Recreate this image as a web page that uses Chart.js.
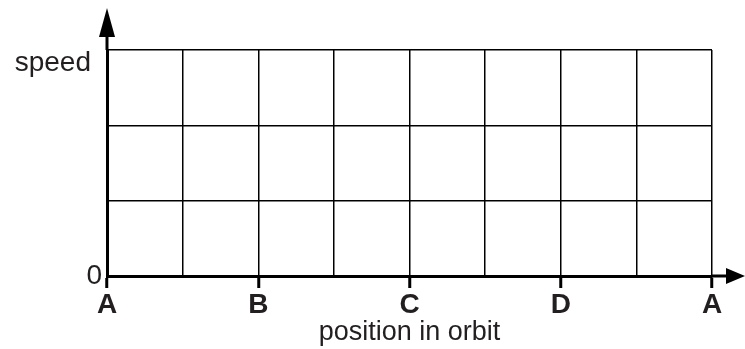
<!DOCTYPE html>
<html>
<head>
<meta charset="utf-8">
<script src="https://cdn.jsdelivr.net/npm/chart.js@4/dist/chart.umd.min.js"></script>
<style>
  html, body { margin: 0; padding: 0; background: #fff; }
  #wrap { width: 745px; height: 349px; }
</style>
</head>
<body>
<div id="wrap"><canvas id="orbitChart"></canvas></div>
<script>
// Grid of the empty answer chart
const positions = ['A', 'B', 'C', 'D', 'A'];   // labels under every 2nd column
const gridColumns = 8;
const gridRows = 3;
const speedLabels = ['0', 'speed'];
const speedLabelValues = [0, 2.83];

const ink = '#231f20';
const font = 'Liberation Sans, Arial, Helvetica, sans-serif';

// arrows on the axes and the y labels
const axisArrows = {
    id: 'axisArrows',
    afterDraw(chart) {
        const { ctx, chartArea: a, scales } = chart;
        ctx.save();
        ctx.fillStyle = '#000';
        ctx.strokeStyle = '#000';
        ctx.lineWidth = 3;

        // y axis arrow
        ctx.beginPath();
        ctx.moveTo(a.left, a.top);
        ctx.lineTo(a.left, a.top - 15);
        ctx.stroke();
        ctx.beginPath();
        ctx.moveTo(a.left, a.top - 42);
        ctx.lineTo(a.left - 8, a.top - 13);
        ctx.lineTo(a.left + 8, a.top - 13);
        ctx.closePath();
        ctx.fill();

        // x axis arrow
        ctx.beginPath();
        ctx.moveTo(a.right, a.bottom);
        ctx.lineTo(a.right + 16, a.bottom);
        ctx.stroke();
        ctx.beginPath();
        ctx.moveTo(a.right + 33, a.bottom);
        ctx.lineTo(a.right + 14, a.bottom - 8);
        ctx.lineTo(a.right + 14, a.bottom + 8);
        ctx.closePath();
        ctx.fill();

        // y labels
        ctx.fillStyle = ink;
        ctx.font = '28px ' + font;
        ctx.textAlign = 'right';
        ctx.textBaseline = 'middle';
        ctx.fillText(speedLabels[0], a.left - 5, scales.y.getPixelForValue(speedLabelValues[0]));
        ctx.fillText(speedLabels[1], a.left - 16, scales.y.getPixelForValue(speedLabelValues[1]));
        ctx.restore();
    }
};

new Chart(document.getElementById('orbitChart'), {
    type: 'scatter',
    data: { datasets: [{ data: [] }] },
    options: {
        responsive: true,
        maintainAspectRatio: false,
        animation: false,
        events: [],
        layout: { padding: { top: 50, right: 33, left: 0, bottom: 0 } },
        plugins: { legend: { display: false }, tooltip: { enabled: false } },
        scales: {
            x: {
                type: 'linear',
                min: 0,
                max: gridColumns,
                afterFit(scale) { scale.height = 73; },
                border: { color: '#000', width: 3 },
                grid: {
                    color: '#000',
                    lineWidth: 1.5,
                    tickLength: 12,
                    tickWidth: 3,
                    tickColor: c => (c.tick && c.tick.value % 2 === 0) ? '#000' : 'rgba(0,0,0,0)'
                },
                ticks: {
                    stepSize: 1,
                    autoSkip: false,
                    maxRotation: 0,
                    padding: 0,
                    color: ink,
                    font: { family: font, size: 28, weight: 'bold' },
                    callback: v => v % 2 === 0 ? positions[v / 2] : ''
                },
                title: {
                    display: true,
                    text: 'position in orbit',
                    color: ink,
                    padding: 0,
                    font: { family: font, size: 27 }
                }
            },
            y: {
                min: 0,
                max: gridRows,
                afterFit(scale) { scale.width = 107; },
                border: { color: '#000', width: 3 },
                grid: { color: '#000', lineWidth: 1.5, drawTicks: false },
                ticks: { stepSize: 1, display: false }
            }
        }
    },
    plugins: [axisArrows]
});
</script>
</body>
</html>
